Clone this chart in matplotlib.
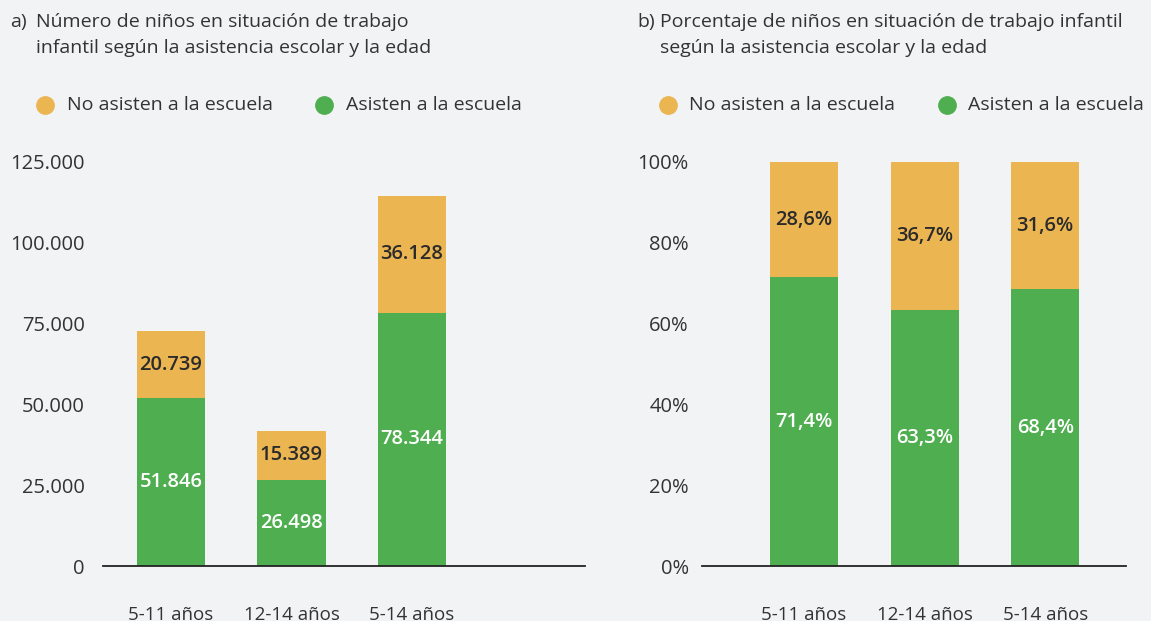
import matplotlib.pyplot as plt
import numpy as np

# datos
edades = ["5-11 años", "12-14 años", "5-14 años"]
asisten = [51846, 26498, 78344]
no_asisten = [20739, 15389, 36128]
asisten_pct = [71.4, 63.3, 68.4]
no_asisten_pct = [28.6, 36.7, 31.6]

naranja = "#ebb552"
verde = "#4fae4f"
fondo = "#f2f3f5"
texto = "#2b2b2b"

plt.rcParams['font.family'] = ["Open Sans", "DejaVu Sans"]

W, H = 1151, 621
fig = plt.figure(figsize=(W / 100, H / 100), dpi=100, facecolor=fondo)


def px(x0, y0, x1, y1):
    # caja en pixeles -> fracciones de figura
    return [x0 / W, 1 - y1 / H, (x1 - x0) / W, (y1 - y0) / H]


def miles(v):
    return f"{v:,.0f}".replace(",", ".")


def panel(rect, xlim, ylim, yticks, ylabels, abajo, arriba, lab_abajo, lab_arriba, pad):
    ax = fig.add_axes(rect)
    ax.set_facecolor(fondo)
    x = np.arange(len(edades))
    ax.bar(x, abajo, width=0.565, color=verde)
    ax.bar(x, arriba, width=0.565, bottom=abajo, color=naranja)
    for i in range(len(x)):
        ax.text(x[i], abajo[i] / 2, lab_abajo[i], ha='center', va='center',
                color='white', fontsize=14.5, fontweight='semibold')
        ax.text(x[i], abajo[i] + arriba[i] / 2, lab_arriba[i], ha='center',
                va='center', color=texto, fontsize=14.5, fontweight='semibold')
    ax.set_xlim(*xlim)
    ax.set_ylim(*ylim)
    ax.set_yticks(yticks)
    ax.set_yticklabels(ylabels)
    ax.set_xticks(x)
    ax.set_xticklabels(edades)
    for s in ['top', 'right', 'left']:
        ax.spines[s].set_visible(False)
    ax.spines['bottom'].set_color('#222222')
    ax.spines['bottom'].set_linewidth(1.3)
    ax.tick_params(axis='y', length=0, pad=pad, labelsize=14.5, labelcolor='#333333')
    ax.tick_params(axis='x', length=0, pad=29, labelsize=13.5, labelcolor='#333333')
    return ax


panel(px(103, 161.7, 585, 566), (-0.564, 3.436), (0, 125000),
      [0, 25000, 50000, 75000, 100000, 125000],
      ["0", "25.000", "50.000", "75.000", "100.000", "125.000"],
      asisten, no_asisten, [miles(v) for v in asisten], [miles(v) for v in no_asisten], 13)

panel(px(702, 161.7, 1126, 566), (-0.846, 2.67), (0, 100),
      [0, 20, 40, 60, 80, 100], ["0%", "20%", "40%", "60%", "80%", "100%"],
      asisten_pct, no_asisten_pct,
      [f"{v:.1f}%".replace(".", ",") for v in asisten_pct],
      [f"{v:.1f}%".replace(".", ",") for v in no_asisten_pct], 9.5)

# titulos
tit = dict(fontsize=14, color='#333333', va='center')
fig.text(10 / W, 1 - 22 / H, "a)", **tit)
fig.text(36 / W, 1 - 22 / H, "Número de niños en situación de trabajo", **tit)
fig.text(36 / W, 1 - 48 / H, "infantil según la asistencia escolar y la edad", **tit)
fig.text(637 / W, 1 - 22 / H, "b)", **tit)
fig.text(660 / W, 1 - 22 / H, "Porcentaje de niños en situación de trabajo infantil", **tit)
fig.text(660 / W, 1 - 48 / H, "según la asistencia escolar y la edad", **tit)

# leyendas
for cx, tx, col, lab in [(45, 67, naranja, "No asisten a la escuela"),
                         (324, 346, verde, "Asisten a la escuela"),
                         (668, 689, naranja, "No asisten a la escuela"),
                         (947, 968, verde, "Asisten a la escuela")]:
    fig.lines.append(plt.Line2D([cx / W], [1 - 105 / H], marker='o', markersize=12.5,
                                color=col, transform=fig.transFigure))
    fig.text(tx / W, 1 - 105 / H, lab, **tit)

fig.savefig("out.png", dpi=100, facecolor=fondo)
